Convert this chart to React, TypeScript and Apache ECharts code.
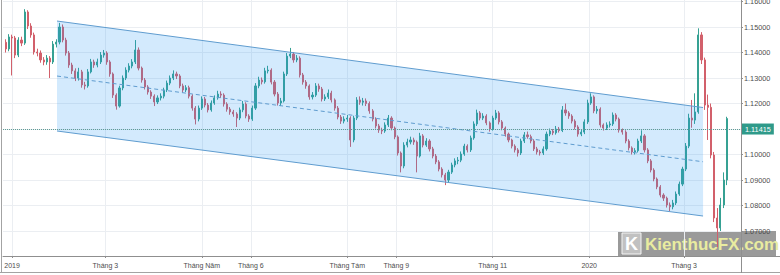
import React, { useEffect, useRef } from "react";
import * as echarts from "echarts";

// Candles: one every 2 calendar days, day 0 = 2019-01-01
const firstOpen = 1.144;
const firstCandleDay = -4;
const candleStepDays = 2;

const closes = [
  1.1414, 1.1461, 1.1457, 1.1390, 1.1449, 1.1437, 1.1559, 1.1504, 1.1469, 1.1402,
  1.1398, 1.1371, 1.1363, 1.1378, 1.1363, 1.1433, 1.1441, 1.1500, 1.1449, 1.1398,
  1.1351, 1.1328, 1.1300, 1.1324, 1.1273, 1.1269, 1.1324, 1.1363, 1.1351, 1.1363,
  1.1390, 1.1398, 1.1363, 1.1316, 1.1233, 1.1190, 1.1261, 1.1300, 1.1331, 1.1347,
  1.1363, 1.1410, 1.1339, 1.1292, 1.1265, 1.1245, 1.1229, 1.1206, 1.1222, 1.1229,
  1.1253, 1.1280, 1.1300, 1.1316, 1.1308, 1.1269, 1.1253, 1.1262, 1.1229, 1.1182,
  1.1139, 1.1182, 1.1218, 1.1194, 1.1175, 1.1202, 1.1222, 1.1237, 1.1233, 1.1198,
  1.1178, 1.1167, 1.1159, 1.1143, 1.1175, 1.1198, 1.1151, 1.1139, 1.1182, 1.1269,
  1.1292, 1.1285, 1.1328, 1.1331, 1.1284, 1.1237, 1.1202, 1.1210, 1.1316, 1.1386,
  1.1394, 1.1371, 1.1378, 1.1312, 1.1284, 1.1269, 1.1226, 1.1233, 1.1269, 1.1257,
  1.1218, 1.1226, 1.1241, 1.1214, 1.1182, 1.1147, 1.1131, 1.1139, 1.1143, 1.1057,
  1.1143, 1.1214, 1.1205, 1.1210, 1.1200, 1.1171, 1.1139, 1.1112, 1.1096, 1.1092,
  1.1116, 1.1143, 1.1104, 1.1069, 1.1006, 1.0955, 1.1037, 1.1049, 1.1057, 1.1049,
  1.0994, 1.1073, 1.1037, 1.1053, 1.1022, 1.0994, 1.0971, 1.0943, 1.0920, 1.0900,
  1.0931, 1.0959, 1.0975, 1.0978, 1.1002, 1.1033, 1.1018, 1.1065, 1.1120, 1.1163,
  1.1143, 1.1151, 1.1124, 1.1100, 1.1143, 1.1163, 1.1128, 1.1104, 1.1080, 1.1057,
  1.1033, 1.1018, 1.1006, 1.1053, 1.1077, 1.1070, 1.1053, 1.1022, 1.1010, 1.1006,
  1.1022, 1.1080, 1.1092, 1.1085, 1.1100, 1.1094, 1.1175, 1.1163, 1.1151, 1.1131,
  1.1108, 1.1080, 1.1088, 1.1128, 1.1202, 1.1226, 1.1171, 1.1178, 1.1116, 1.1104,
  1.1116, 1.1120, 1.1155, 1.1139, 1.1096, 1.1088, 1.1053, 1.1026, 1.1010, 1.1015,
  1.1053, 1.1073, 1.1018, 1.0975, 1.0939, 1.0904, 1.0873, 1.0841, 1.0829, 1.0802,
  1.0795, 1.0810, 1.0845, 1.0884, 1.0943, 1.1033, 1.1143, 1.1135, 1.1167, 1.1469,
  1.1371, 1.1194, 1.1185, 1.0998, 1.0751, 1.0712, 1.0802, 1.0900, 1.1141,
];

const lows = [
  1.1400, 1.1405, 1.1310, 1.1378, 1.1382, 1.1425, 1.1430, 1.1492, 1.1458, 1.1392,
  1.1385, 1.1360, 1.1350, 1.1352, 1.1300, 1.1355, 1.1420, 1.1432, 1.1440, 1.1388,
  1.1340, 1.1316, 1.1288, 1.1290, 1.1262, 1.1255, 1.1262, 1.1318, 1.1340, 1.1342,
  1.1355, 1.1380, 1.1352, 1.1305, 1.1222, 1.1176, 1.1184, 1.1252, 1.1292, 1.1322,
  1.1338, 1.1355, 1.1330, 1.1282, 1.1255, 1.1235, 1.1218, 1.1190, 1.1198, 1.1212,
  1.1220, 1.1245, 1.1272, 1.1292, 1.1296, 1.1260, 1.1243, 1.1245, 1.1220, 1.1172,
  1.1118, 1.1130, 1.1175, 1.1185, 1.1165, 1.1168, 1.1195, 1.1215, 1.1222, 1.1188,
  1.1168, 1.1156, 1.1148, 1.1108, 1.1135, 1.1166, 1.1142, 1.1128, 1.1132, 1.1175,
  1.1260, 1.1275, 1.1278, 1.1318, 1.1275, 1.1228, 1.1192, 1.1190, 1.1204, 1.1308,
  1.1378, 1.1360, 1.1362, 1.1302, 1.1274, 1.1258, 1.1215, 1.1216, 1.1226, 1.1246,
  1.1208, 1.1210, 1.1218, 1.1204, 1.1172, 1.1138, 1.1120, 1.1122, 1.1128, 1.1030,
  1.1048, 1.1135, 1.1195, 1.1192, 1.1190, 1.1160, 1.1130, 1.1102, 1.1085, 1.1080,
  1.1085, 1.1108, 1.1095, 1.1060, 1.0996, 1.0930, 1.0946, 1.1028, 1.1040, 1.1038,
  1.0930, 1.0988, 1.1028, 1.1030, 1.1012, 1.0985, 1.0962, 1.0934, 1.0910, 1.0880,
  1.0892, 1.0924, 1.0950, 1.0962, 1.0970, 1.0995, 1.1008, 1.1010, 1.1058, 1.1112,
  1.1134, 1.1135, 1.1115, 1.1090, 1.1094, 1.1136, 1.1118, 1.1095, 1.1070, 1.1048,
  1.1024, 1.1008, 1.0992, 1.0998, 1.1045, 1.1062, 1.1044, 1.1014, 1.1000, 1.0996,
  1.0998, 1.1015, 1.1072, 1.1076, 1.1078, 1.1086, 1.1088, 1.1152, 1.1140, 1.1122,
  1.1098, 1.1070, 1.1072, 1.1080, 1.1120, 1.1195, 1.1162, 1.1160, 1.1106, 1.1094,
  1.1096, 1.1106, 1.1112, 1.1130, 1.1086, 1.1078, 1.1044, 1.1016, 1.1000, 1.1000,
  1.1008, 1.1045, 1.1008, 1.0966, 1.0930, 1.0895, 1.0864, 1.0832, 1.0818, 1.0792,
  1.0778, 1.0785, 1.0802, 1.0838, 1.0876, 1.0935, 1.1025, 1.1105, 1.1120, 1.1160,
  1.1355, 1.1175, 1.1057, 1.0985, 1.0735, 1.0636, 1.0700, 1.0790, 1.0880,
];

const highs = [
  1.1452, 1.1472, 1.1470, 1.1465, 1.1460, 1.1462, 1.1570, 1.1566, 1.1515, 1.1478,
  1.1415, 1.1408, 1.1382, 1.1390, 1.1386, 1.1445, 1.1452, 1.1516, 1.1510, 1.1458,
  1.1406, 1.1360, 1.1338, 1.1340, 1.1332, 1.1285, 1.1335, 1.1375, 1.1372, 1.1376,
  1.1402, 1.1410, 1.1405, 1.1370, 1.1322, 1.1240, 1.1270, 1.1310, 1.1342, 1.1358,
  1.1374, 1.1449, 1.1420, 1.1345, 1.1300, 1.1272, 1.1252, 1.1236, 1.1232, 1.1240,
  1.1262, 1.1290, 1.1310, 1.1330, 1.1325, 1.1315, 1.1278, 1.1272, 1.1270, 1.1236,
  1.1190, 1.1192, 1.1228, 1.1226, 1.1202, 1.1212, 1.1232, 1.1250, 1.1248, 1.1240,
  1.1205, 1.1186, 1.1175, 1.1166, 1.1184, 1.1210, 1.1205, 1.1158, 1.1192, 1.1280,
  1.1305, 1.1302, 1.1340, 1.1348, 1.1338, 1.1292, 1.1245, 1.1222, 1.1325, 1.1398,
  1.1418, 1.1402, 1.1390, 1.1385, 1.1320, 1.1292, 1.1275, 1.1245, 1.1280, 1.1278,
  1.1265, 1.1236, 1.1255, 1.1250, 1.1220, 1.1190, 1.1155, 1.1150, 1.1155, 1.1150,
  1.1152, 1.1225, 1.1228, 1.1222, 1.1220, 1.1208, 1.1178, 1.1146, 1.1120, 1.1105,
  1.1126, 1.1155, 1.1150, 1.1110, 1.1075, 1.1012, 1.1048, 1.1062, 1.1070, 1.1066,
  1.1055, 1.1085, 1.1080, 1.1064, 1.1060, 1.1030, 1.1002, 1.0978, 1.0950, 1.0928,
  1.0940, 1.0968, 1.0985, 1.0990, 1.1012, 1.1042, 1.1040, 1.1074, 1.1130, 1.1176,
  1.1170, 1.1162, 1.1158, 1.1130, 1.1152, 1.1175, 1.1170, 1.1135, 1.1110, 1.1086,
  1.1062, 1.1040, 1.1025, 1.1062, 1.1088, 1.1090, 1.1078, 1.1060, 1.1030, 1.1018,
  1.1032, 1.1090, 1.1102, 1.1100, 1.1112, 1.1108, 1.1190, 1.1200, 1.1170, 1.1158,
  1.1138, 1.1115, 1.1098, 1.1138, 1.1215, 1.1240, 1.1232, 1.1190, 1.1185, 1.1122,
  1.1126, 1.1130, 1.1165, 1.1162, 1.1145, 1.1102, 1.1095, 1.1060, 1.1032, 1.1025,
  1.1062, 1.1095, 1.1080, 1.1025, 1.0982, 1.0946, 1.0910, 1.0880, 1.0848, 1.0835,
  1.0812, 1.0822, 1.0855, 1.0894, 1.0952, 1.1045, 1.1160, 1.1214, 1.1240, 1.1495,
  1.1480, 1.1380, 1.1235, 1.1200, 1.1010, 1.0790, 1.0830, 1.0930, 1.1148,
];

// x-axis ticks (days after 2019-01-01) and their labels
const tickDays = [0, 59, 120, 151, 212, 243, 304, 365, 425];
const tickLabels = ["2019", "Tháng 3", "Tháng Năm", "Tháng 6", "Tháng Tám", "Tháng 9", "Tháng 11", "2020", "Tháng 3"];
const priceTicks = [1.07, 1.08, 1.09, 1.1, 1.11, 1.12, 1.13, 1.14, 1.15, 1.16];
const lastPrice = 1.11415;

// regression channel: [day, upper, lower]
const channelStart = [28.46, 1.15235, 1.10922];
const channelEnd = [437.0, 1.11843, 1.07588];

const UP = "#36a193";
const DOWN = "#d2606b";
const CH_LINE = "#5f9ccf";
const FONT = "Liberation Sans";

export default function App() {
  const ref = useRef<HTMLDivElement>(null);

  useEffect(() => {
    if (!ref.current) return;
    const chart = echarts.init(ref.current, null, { renderer: "svg" });

    const candleData = closes.map((c, i) => [
      firstCandleDay + i * candleStepDays,
      i === 0 ? firstOpen : closes[i - 1],
      c,
      lows[i],
      highs[i],
    ]);

    const labelFor = (v: number) => {
      const idx = tickDays.findIndex((d) => Math.abs(d - v) < 0.01);
      return idx >= 0 ? tickLabels[idx] : "";
    };

    chart.setOption({
      animation: false,
      backgroundColor: "#ffffff",
      textStyle: { fontFamily: FONT },
      grid: { left: 3, right: 39, top: 0, bottom: 19, containLabel: false, outerBoundsMode: "none" },
      xAxis: {
        type: "value",
        min: -5.7,
        max: 461,
        axisLine: { show: true, onZero: false, lineStyle: { color: "#8f8f8f" } },
        axisTick: { show: true, length: 2, customValues: tickDays, lineStyle: { color: "#8f8f8f" } },
        axisLabel: {
          customValues: tickDays,
          formatter: (v: number) => labelFor(v),
          fontSize: 7,
          color: "#4d4d4d",
          margin: 6,
          fontFamily: FONT,
        },
        splitLine: { show: true, lineStyle: { color: "#ebeef2", width: 1 } },
      },
      yAxis: {
        type: "value",
        position: "right",
        min: 1.0602,
        max: 1.1606,
        scale: true,
        axisLine: { show: true, onZero: false, lineStyle: { color: "#8f8f8f" } },
        axisTick: { show: true, length: 2, customValues: priceTicks, lineStyle: { color: "#8f8f8f" } },
        axisLabel: {
          customValues: priceTicks,
          formatter: (v: number) => v.toFixed(5),
          fontSize: 7.3,
          color: "#4d4d4d",
          margin: 3,
          fontFamily: FONT,
        },
        splitLine: { show: true, lineStyle: { color: "#ebeef2", width: 1 } },
      },
      series: [
        {
          type: "candlestick",
          data: candleData,
          encode: { x: 0, y: [1, 2, 3, 4] },
          barWidth: 1.6,
          z: 2,
          itemStyle: {
            color: UP,
            color0: DOWN,
            borderColor: UP,
            borderColor0: DOWN,
            borderWidth: 1,
          },
          markLine: {
            silent: true,
            symbol: ["none", "none"],
            lineStyle: { color: "#5f9c95", type: "dotted", width: 1 },
            label: {
              show: true,
              position: "end",
              distance: 1,
              formatter: lastPrice.toFixed(5),
              color: "#ffffff",
              backgroundColor: "#2f9a8a",
              padding: [2, 3, 2, 3],
              fontSize: 7.3,
              fontFamily: FONT,
            },
            data: [{ yAxis: lastPrice }],
          },
        },
        {
          type: "custom",
          coordinateSystem: "cartesian2d",
          silent: true,
          z: 3,
          data: [[channelStart[0], channelStart[1], channelStart[2], channelEnd[0], channelEnd[1], channelEnd[2]]],
          encode: { x: [0, 3], y: [1, 2, 4, 5] },
          renderItem: (params: any, api: any) => {
            const a = api.coord([api.value(0), api.value(1)]);
            const b = api.coord([api.value(3), api.value(4)]);
            const c = api.coord([api.value(3), api.value(5)]);
            const d = api.coord([api.value(0), api.value(2)]);
            const m0 = [(a[0] + d[0]) / 2, (a[1] + d[1]) / 2];
            const m1 = [(b[0] + c[0]) / 2, (b[1] + c[1]) / 2];
            const ls = { stroke: CH_LINE, lineWidth: 1, fill: null };
            return {
              type: "group",
              children: [
                { type: "polygon", shape: { points: [a, b, c, d] }, style: { fill: "rgba(33,150,243,0.2)" } },
                { type: "line", shape: { x1: a[0], y1: a[1], x2: b[0], y2: b[1] }, style: ls },
                { type: "line", shape: { x1: d[0], y1: d[1], x2: c[0], y2: c[1] }, style: ls },
                {
                  type: "line",
                  shape: { x1: m0[0], y1: m0[1], x2: m1[0], y2: m1[1] },
                  style: { ...ls, lineDash: [4, 3] },
                },
              ],
            };
          },
        },
      ],
      graphic: [
        { type: "line", shape: { x1: 1.5, y1: 0, x2: 1.5, y2: 273 }, style: { stroke: "#a3a3a3", lineWidth: 1 }, silent: true },
        { type: "line", shape: { x1: 0, y1: 272.5, x2: 780, y2: 272.5 }, style: { stroke: "#a3a3a3", lineWidth: 1 }, silent: true },
        { type: "line", shape: { x1: 741, y1: 256.5, x2: 780, y2: 256.5 }, style: { stroke: "#8f8f8f", lineWidth: 1 }, silent: true },
        { type: "line", shape: { x1: 741.5, y1: 256, x2: 741.5, y2: 273 }, style: { stroke: "#8f8f8f", lineWidth: 1 }, silent: true },
        {
          type: "group",
          z: 100,
          silent: true,
          children: [
            { type: "rect", shape: { x: 618, y: 231, width: 158, height: 25 }, style: { fill: "rgba(92,92,92,0.62)" } },
            {
              type: "rect",
              shape: { x: 622, y: 233, width: 19, height: 21 },
              style: { fill: "rgba(225,225,225,0.55)", stroke: "#f4f4f4", lineWidth: 1 },
            },
            {
              type: "text",
              x: 631.5,
              y: 244,
              style: {
                text: "K",
                fill: "#ffffff",
                font: `bold 18px "${FONT}"`,
                align: "center",
                verticalAlign: "middle",
                textAlign: "center",
                textVerticalAlign: "middle",
              },
            },
            {
              type: "text",
              x: 645,
              y: 244,
              style: {
                text: "KienthucFX.com",
                fill: "#e9eca0",
                font: `bold 17px "${FONT}"`,
                align: "left",
                verticalAlign: "middle",
                textAlign: "left",
                textVerticalAlign: "middle",
              },
            },
          ],
        },
      ],
    });

    return () => chart.dispose();
  }, []);

  return (
    <div
      ref={ref}
      style={{ position: "fixed", left: 0, top: 0, width: 780, height: 275, background: "#ffffff" }}
    />
  );
}
